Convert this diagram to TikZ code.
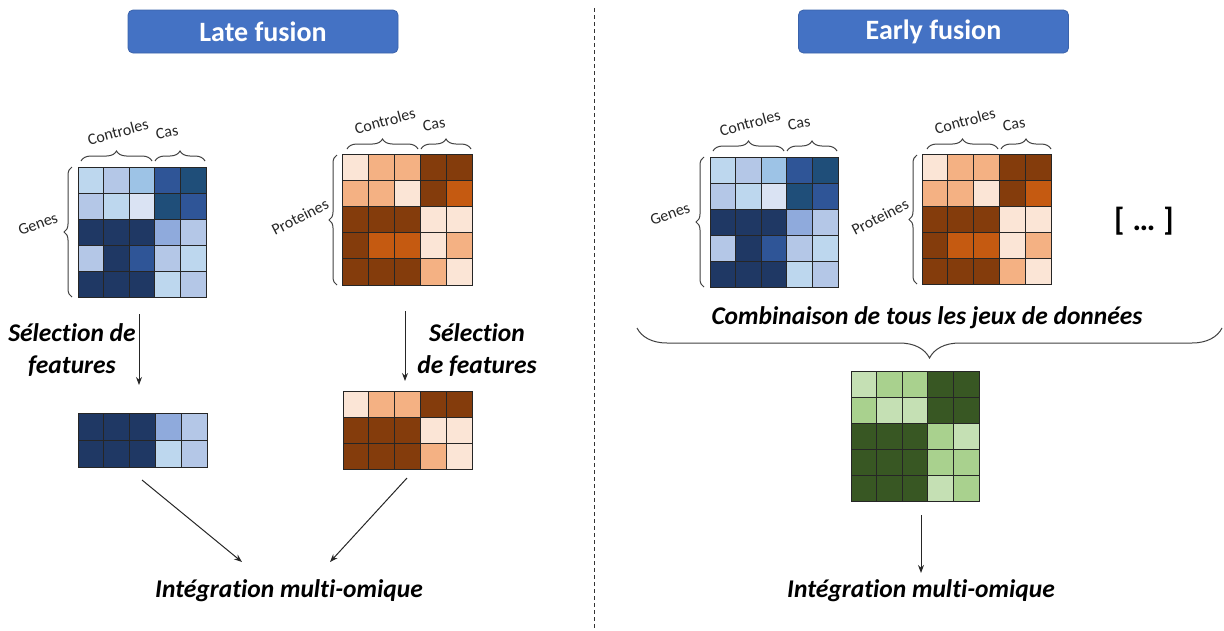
\documentclass[tikz,border=0pt]{standalone}
\usepackage{fontspec}
\setmainfont[Ligatures={NoCommon}]{Carlito}
\usetikzlibrary{decorations.pathreplacing,arrows.meta}
% blues
\definecolor{bA}{HTML}{BDD7EE}
\definecolor{bB}{HTML}{B4C7E7}
\definecolor{bC}{HTML}{9DC3E6}
\definecolor{bD}{HTML}{DAE3F3}
\definecolor{bN}{HTML}{1F3864}
\definecolor{bM}{HTML}{2F5597}
\definecolor{bT}{HTML}{1F4E79}
\definecolor{bP}{HTML}{8FAADC}
% oranges
\definecolor{oL}{HTML}{FBE5D6}
\definecolor{oM}{HTML}{F4B183}
\definecolor{oD}{HTML}{843C0C}
\definecolor{oO}{HTML}{C55A11}
% greens
\definecolor{gL}{HTML}{C5E0B4}
\definecolor{gM}{HTML}{A9D18E}
\definecolor{gD}{HTML}{385723}
\definecolor{btn}{HTML}{4472C4}
\definecolor{btnline}{HTML}{3A62AA}
\definecolor{brcol}{HTML}{404040}

\newcommand\hmap[5]{%
  \foreach \row [count=\i] in {#5} {
    \foreach \cc [count=\j] in \row {
      \filldraw[fill=\cc, draw=black!85, line width=1pt]
        ({#1+(\j-1)*#3},{#2+(\i-1)*#4}) rectangle ++(#3,#4);
    }
  }
}

\tikzset{
  brc/.style={draw=brcol, line width=1pt, decorate,
    decoration={brace, amplitude=#1}},
  lbl/.style={font=\fontsize{16}{18}\selectfont, text=black!85, inner sep=0pt},
  bigtxt/.style={font=\fontsize{25.5}{32}\selectfont\bfseries\itshape, align=center, inner sep=0pt},
  title/.style={fill=btn, draw=btnline, line width=0.8pt, rounded corners=5pt,
    minimum width=270pt, minimum height=43pt, text=white,
    font=\fontsize{28}{32}\selectfont\bfseries},
  arr/.style={-{Stealth[length=8pt,width=6pt]}, line width=1pt, draw=black!85},
}

\begin{document}
\begin{tikzpicture}[x=1pt,y=-1pt]
\useasboundingbox (0,0) rectangle (1224,630);

% titles
\node[title] (late) at (263,31.5) {Late fusion};
\node[title] (early) at (933.5,31.5) {Early fusion};

% separator
\coordinate (sepT) at (594,8);
\coordinate (sepB) at (594,630);
\draw[dash pattern=on 4pt off 3pt, line width=0.8pt, black!80] (sepT) -- (sepB);

% ---------- Late fusion: genes ----------
\hmap{78}{167}{25.6}{26}{{bA,bB,bC,bM,bT},{bB,bA,bD,bT,bM},{bN,bN,bN,bP,bB},{bB,bN,bM,bB,bA},{bN,bN,bN,bA,bB}}
\draw[brc=10] (81,161) -- (152,161);
\draw[brc=10] (155,161) -- (205,161);
\draw[brc=8] (72,297) -- (72,167);
\node[lbl, rotate=15] (gctrl) at (118,132) {Controles};
\node[lbl, rotate=10] (gcas) at (167,132) {Cas};
\node[lbl, rotate=20] (ggen) at (38,224) {Genes};

% ---------- Late fusion: proteins ----------
\hmap{342}{154}{26}{26.2}{{oL,oM,oM,oD,oD},{oM,oM,oL,oD,oO},{oD,oD,oD,oL,oL},{oD,oO,oO,oL,oM},{oD,oD,oD,oM,oL}}
\draw[brc=10] (347,149) -- (418,149);
\draw[brc=10] (421,149) -- (471,149);
\draw[brc=8] (337,285) -- (337,155);
\node[lbl, rotate=15] (pctrl) at (385,121) {Controles};
\node[lbl, rotate=10] (pcas) at (434,124) {Cas};
\node[lbl, rotate=27] (pprot) at (300,217) {Proteines};

% selection
\node[bigtxt] (sel1) at (72,350) {Sélection de\\features};
\node[bigtxt] (sel2) at (477,350) {Sélection\\de features};
\coordinate (a1s) at (139,314);
\coordinate (a1e) at (139,385);
\coordinate (a2s) at (405,311);
\coordinate (a2e) at (405,381);
\draw[arr] (a1s) -- (a1e);
\draw[arr] (a2s) -- (a2e);

% reduced matrices
\hmap{78}{413}{25.8}{27}{{bN,bN,bN,bP,bB},{bN,bN,bN,bA,bB}}
\hmap{343}{391}{25.8}{26.3}{{oL,oM,oM,oD,oD},{oD,oD,oD,oL,oL},{oD,oD,oD,oM,oL}}

% integration (late)
\node[bigtxt] (intL) at (289,591) {Intégration multi-omique};
\coordinate (d1s) at (142,480);
\coordinate (d1e) at (242,562);
\coordinate (d2s) at (407,478);
\coordinate (d2e) at (330,562);
\draw[arr] (d1s) -- (d1e);
\draw[arr] (d2s) -- (d2e);

% ---------- Early fusion ----------
\hmap{710}{157}{25.6}{26}{{bA,bB,bC,bM,bT},{bB,bA,bD,bT,bM},{bN,bN,bN,bP,bB},{bB,bN,bM,bB,bA},{bN,bN,bN,bA,bB}}
\draw[brc=10] (713,151) -- (784,151);
\draw[brc=10] (787,151) -- (837,151);
\draw[brc=8] (704,287) -- (704,157);
\node[lbl, rotate=15] (gctrl2) at (750,123) {Controles};
\node[lbl, rotate=10] (gcas2) at (799,123) {Cas};
\node[lbl, rotate=20] (ggen2) at (670,214) {Genes};

\hmap{922}{154}{25.8}{26}{{oL,oM,oM,oD,oD},{oM,oM,oL,oD,oO},{oD,oD,oD,oL,oL},{oD,oO,oO,oL,oM},{oD,oD,oD,oM,oL}}
\draw[brc=10] (927,149) -- (998,149);
\draw[brc=10] (1001,149) -- (1051,149);
\draw[brc=8] (917,284) -- (917,155);
\node[lbl, rotate=15] (pctrl2) at (965,121) {Controles};
\node[lbl, rotate=10] (pcas2) at (1014,124) {Cas};
\node[lbl, rotate=27] (pprot2) at (880,217) {Proteines};

\node[font=\fontsize{32}{36}\selectfont\bfseries, inner sep=0pt] (dots) at (1144,221) {[\hspace{8pt}…\hspace{8pt}]};

\node[bigtxt] (comb) at (927,318) {Combinaison de tous les jeux de données};
\draw[brc=30] (1222,328) -- (637,328);

\hmap{851}{371}{25.6}{26}{{gL,gM,gM,gD,gD},{gM,gL,gL,gD,gD},{gD,gD,gD,gM,gL},{gD,gD,gD,gM,gM},{gD,gD,gD,gL,gM}}

\coordinate (e1s) at (921,515);
\coordinate (e1e) at (921,573);
\draw[arr] (e1s) -- (e1e);
\node[bigtxt] (intR) at (921,591) {Intégration multi-omique};
\end{tikzpicture}
\end{document}
